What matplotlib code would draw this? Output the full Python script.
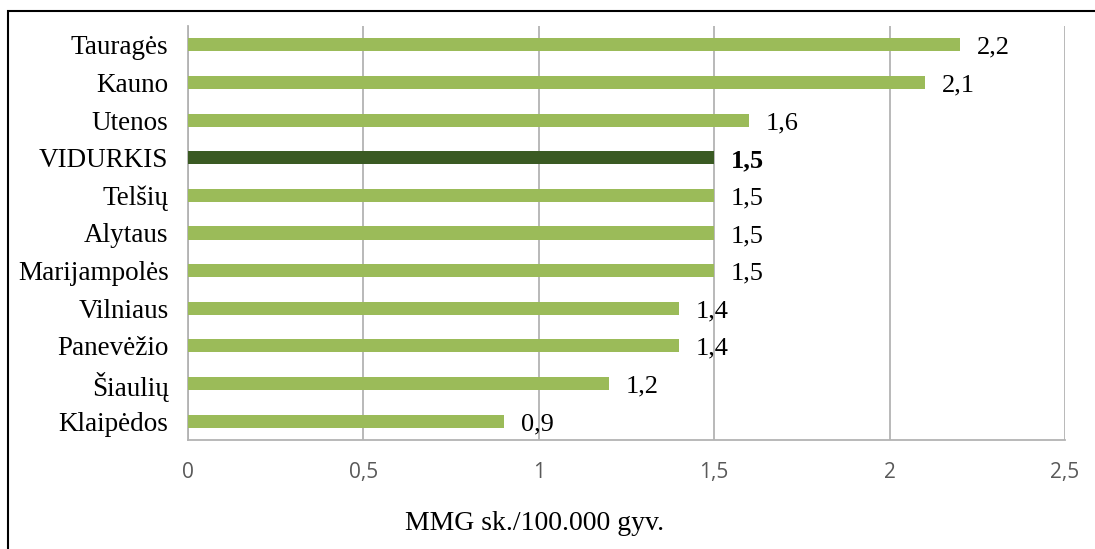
import matplotlib.pyplot as plt
from matplotlib.patches import Rectangle

# regionai nuo didžiausio iki mažiausio (viršuje -> apačioje)
regions = ['Tauragės', 'Kauno', 'Utenos', 'VIDURKIS', 'Telšių', 'Alytaus',
           'Marijampolės', 'Vilniaus', 'Panevėžio', 'Šiaulių', 'Klaipėdos']
values = [2.2, 2.1, 1.6, 1.5, 1.5, 1.5, 1.5, 1.4, 1.4, 1.2, 0.9]
xticks = [0, 0.5, 1, 1.5, 2, 2.5]
xlabel = 'MMG sk./100.000 gyv.'

light = '#9BBB59'
dark = '#3A5A23'
grid = '#B3B3B3'

fig = plt.figure(figsize=(10.95, 5.49), dpi=100)
ax = fig.add_axes([188/1095, 1 - 440/549, (1065-188)/1095, (440-26)/549])

ypos = list(range(len(regions)))
colors = [dark if r == 'VIDURKIS' else light for r in regions]
ax.barh(ypos, values, height=0.35, color=colors, zorder=3)

for y, v, r in zip(ypos, values, regions):
    ax.text(v + 0.048, y + 0.08, f'{v:.1f}'.replace('.', ','),
            va='center', ha='left', fontsize=19, family='Liberation Serif',
            fontweight='bold' if r == 'VIDURKIS' else 'normal', zorder=4)

ax.set_xlim(0, 2.5)
ax.set_ylim(len(regions) - 0.5, -0.5)
ax.set_yticks(ypos)
ax.set_yticklabels(regions, family='Liberation Serif', fontsize=19.5)
ax.set_xticks(xticks)
ax.set_xticklabels([str(t).replace('.', ',') if t % 1 else str(int(t)) for t in xticks],
                   family='Open Sans', fontsize=15, color='#595959')
ax.tick_params(axis='both', length=0)
ax.tick_params(axis='x', pad=16)
ax.tick_params(axis='y', pad=14)

ax.grid(axis='x', color=grid, linewidth=1.3, zorder=0)
for s in ['top', 'right']:
    ax.spines[s].set_visible(False)
for s in ['left', 'bottom']:
    ax.spines[s].set_color(grid)
    ax.spines[s].set_linewidth(1.3)

fig.text(535/1095, 1 - 524/549, xlabel, ha='center', va='center',
         family='Liberation Serif', fontsize=20)

# rėmelis aplink diagramą
fig.patches.append(Rectangle((8/1095, -0.05), 1.1, 1 - 11/549 + 0.05,
                             transform=fig.transFigure, fill=False,
                             edgecolor='black', linewidth=1.5))

fig.savefig('out.png', dpi=100)
